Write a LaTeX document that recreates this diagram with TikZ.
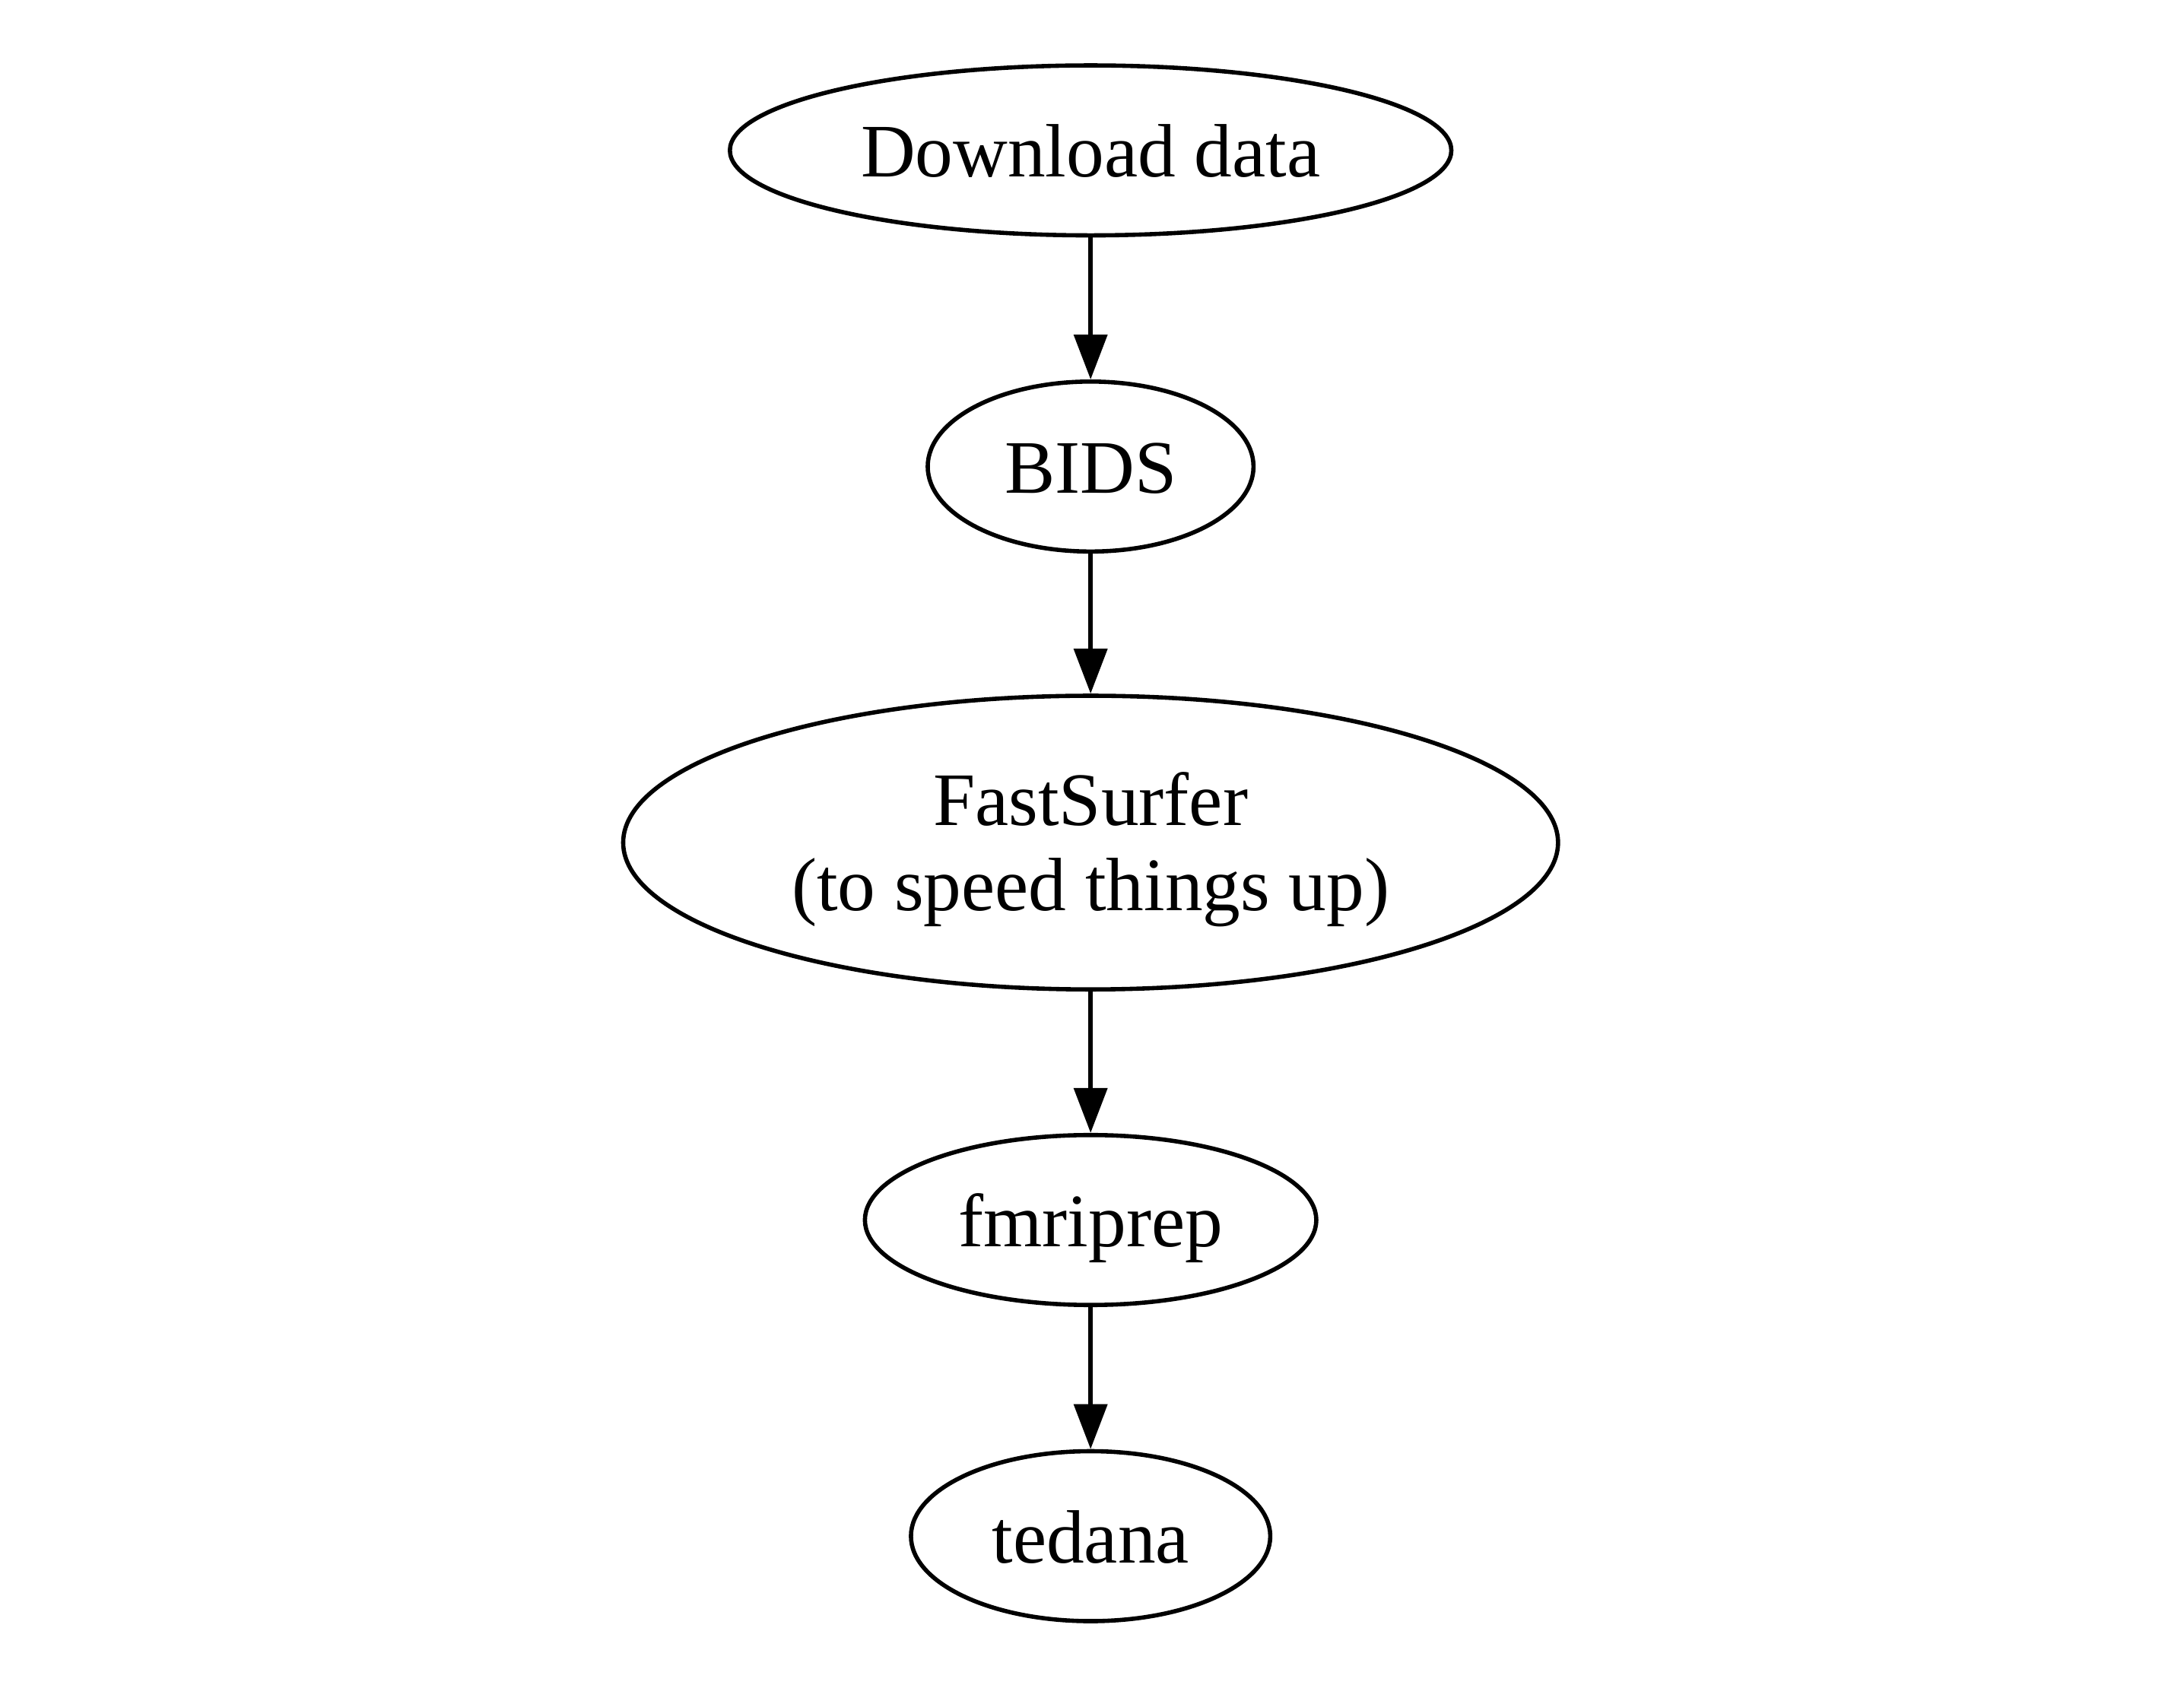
\documentclass[tikz,border=0pt]{standalone}
\usepackage{fontspec}
\setmainfont{Liberation Serif}
\usetikzlibrary{shapes.geometric,arrows.meta}
\begin{document}
\begin{tikzpicture}[x=0.295pt,y=-0.295pt,
  proc/.style={draw,ellipse,line width=0.9pt,inner sep=0pt,minimum height=36pt,
    font=\fontsize{16pt}{18pt}\selectfont,text height=11.2pt,text depth=0pt,align=center},
  flow/.style={-{Triangle[length=9.5pt,width=7pt]},line width=0.9pt}]
\useasboundingbox (0,0) rectangle (1568,1223);
\node[proc,minimum width=152.8pt] (dl) at (783,108) {Download data};
\node[proc,minimum width=69pt] (bids) at (783,335) {BIDS};
\node[proc,minimum width=198pt,minimum height=62.2pt,text height=28.8pt] (fs) at (783,605) {FastSurfer\\(to speed things up)};
\node[proc,minimum width=95.6pt] (fmri) at (783,876) {fmriprep};
\node[proc,minimum width=76.1pt] (ted) at (783,1103) {tedana};
\draw[flow] (dl) -- (bids);
\draw[flow] (bids) -- (fs);
\draw[flow] (fs) -- (fmri);
\draw[flow] (fmri) -- (ted);
\end{tikzpicture}
\end{document}
